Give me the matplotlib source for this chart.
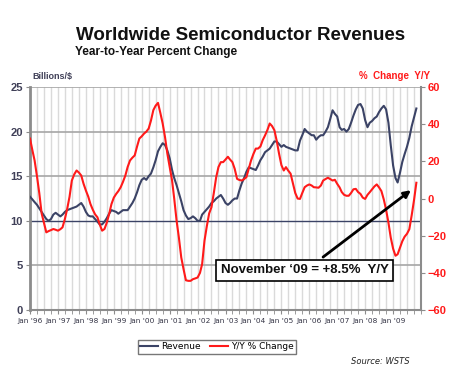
import pandas as pd
import numpy as np
import matplotlib
matplotlib.use("Agg")
import matplotlib.pyplot as plt
import matplotlib.dates as mdates
from matplotlib.lines import Line2D

# Monthly worldwide semiconductor revenues (billions $), Jan 1996 - Nov 2009
revenue = [
    12.7, 12.4, 12.1, 11.8, 11.4, 11.0, 10.6, 10.2, 10.0, 10.2, 10.7, 10.9,   # 1996
    10.7, 10.5, 10.7, 11.0, 11.2, 11.3, 11.4, 11.5, 11.6, 11.8, 12.0, 11.6,   # 1997
    11.0, 10.6, 10.5, 10.5, 10.2, 9.9, 9.6, 9.6, 9.9, 10.3, 10.8, 11.2,       # 1998
    11.1, 11.0, 10.8, 11.0, 11.2, 11.2, 11.2, 11.6, 12.0, 12.5, 13.2, 14.0,   # 1999
    14.6, 14.8, 14.6, 15.0, 15.3, 16.0, 16.8, 17.8, 18.3, 18.7, 18.5, 17.9,   # 2000
    17.0, 15.7, 14.8, 14.0, 13.1, 12.2, 11.2, 10.6, 10.2, 10.3, 10.5, 10.3,   # 2001
    10.0, 10.0, 10.7, 11.0, 11.3, 11.6, 12.0, 12.2, 12.5, 12.7, 12.9, 12.5,   # 2002
    12.0, 11.8, 12.0, 12.3, 12.5, 12.5, 13.4, 14.2, 14.8, 15.5, 16.0, 15.9,   # 2003
    15.8, 15.7, 16.2, 16.8, 17.2, 17.7, 17.9, 18.1, 18.5, 18.9, 18.9, 18.6,   # 2004
    18.3, 18.5, 18.3, 18.2, 18.1, 18.0, 17.9, 17.9, 19.0, 19.6, 20.3, 20.0,   # 2005
    19.8, 19.6, 19.6, 19.1, 19.4, 19.6, 19.6, 20.0, 20.5, 21.4, 22.4, 22.0,   # 2006
    21.7, 20.5, 20.2, 20.3, 20.0, 20.3, 21.0, 21.8, 22.5, 23.0, 23.1, 22.6,   # 2007
    21.3, 20.5, 21.0, 21.2, 21.5, 21.7, 22.2, 22.6, 22.9, 22.5, 21.0, 18.5,   # 2008
    16.2, 14.8, 14.3, 15.4, 16.6, 17.5, 18.3, 19.3, 20.6, 21.6, 22.6,         # 2009
]

# Year-to-year percent change
yoy = [
    32.3, 26.0, 20.5, 12.0, 3.0, -8.0, -13.0, -18.2, -17.5, -17.0, -16.4, -16.8,   # 1996
    -17.3, -16.5, -15.5, -11.0, -5.6, 1.0, 9.7, 13.0, 15.1, 14.0, 12.4, 8.0,       # 1997
    4.3, 1.0, -2.9, -6.0, -8.5, -10.1, -14.0, -17.3, -16.4, -13.0, -8.3, -3.0,     # 1998
    0.5, 2.5, 4.0, 6.1, 9.0, 12.4, 17.0, 20.5, 22.0, 23.2, 28.0, 32.3,             # 1999
    33.5, 35.0, 36.0, 37.7, 42.0, 47.6, 50.0, 51.5, 46.0, 40.4, 33.0, 24.2,        # 2000
    17.0, 9.7, 0.0, -11.9, -21.0, -31.7, -38.0, -44.0, -44.3, -44.3, -43.4, -43.0, # 2001
    -42.5, -40.0, -35.3, -22.7, -15.0, -8.0, -4.7, 3.0, 11.5, 17.0, 19.6, 19.6,    # 2002
    21.0, 22.5, 21.0, 19.6, 16.0, 10.6, 10.0, 9.7, 10.5, 11.5, 16.0, 20.5,         # 2003
    24.0, 26.9, 26.9, 28.0, 31.4, 34.0, 36.8, 40.4, 39.0, 36.8, 31.0, 24.2,        # 2004
    18.0, 15.1, 16.9, 15.0, 13.4, 8.0, 3.0, 0.0, -0.2, 3.0, 6.1, 7.0,              # 2005
    7.6, 7.0, 6.1, 6.0, 5.8, 7.0, 9.7, 10.5, 11.2, 10.5, 9.7, 10.1,                # 2006
    7.9, 6.0, 3.5, 2.0, 1.5, 1.5, 3.0, 5.0, 5.2, 3.5, 2.5, 0.5,                    # 2007
    -0.2, 2.0, 3.4, 5.0, 6.5, 7.6, 6.0, 4.0, -0.5, -6.0, -13.0, -21.0,             # 2008
    -27.0, -30.8, -30.0, -26.5, -23.0, -20.5, -19.0, -16.5, -9.0, -1.0, 8.5,       # 2009
]

year_ticks = pd.date_range("1996-01-01", "2009-01-01", freq="YS")
dates = pd.date_range("1996-01-01", periods=len(revenue), freq="MS")

navy = "#3b4366"
red = "#ff1a1a"
gray = "#8c8c8c"
font = "Liberation Sans"

fig = plt.figure(figsize=(4.5, 3.77), dpi=100)
ax = fig.add_axes([0.0667, 0.1777, 0.8689, 0.5913])
ax2 = ax.twinx()

# grid
ax.set_xlim(pd.Timestamp("1996-01-01"), pd.Timestamp("2010-01-01"))
ax.set_ylim(0, 25)
ax.set_xticks(year_ticks)
ax.xaxis.set_minor_locator(mdates.MonthLocator(bymonth=[1, 4, 7, 10]))
ax.set_xticklabels([d.strftime("Jan '%y") for d in year_ticks])
ax.grid(True, which="both", axis="x", color="#dadada", lw=1.0)
for v in [5, 15, 20, 25]:
    ax.axhline(v, color="#a6a6a6", lw=1.2, zorder=1)
ax.axhline(10, color=navy, lw=1.0, zorder=1)
ax.set_axisbelow(True)

ax.plot(dates, revenue, color=navy, lw=1.5, zorder=3)
ax2.plot(dates, yoy, color=red, lw=1.5, zorder=3)
ax2.set_ylim(-60, 60)
ax2.set_yticks([60, 40, 20, 0, -20, -40, -60])

for a in (ax, ax2):
    for s in a.spines.values():
        s.set_visible(False)
ax.spines["left"].set_visible(True)
ax.spines["left"].set_color(gray)
ax.spines["left"].set_linewidth(2)
ax.spines["bottom"].set_visible(True)
ax.spines["bottom"].set_color(gray)
ax.spines["bottom"].set_linewidth(1.5)
ax2.spines["right"].set_visible(True)
ax2.spines["right"].set_color(gray)
ax2.spines["right"].set_linewidth(1.5)

ax.set_yticks([0, 5, 10, 15, 20, 25])
ax.tick_params(axis="y", length=3, color=gray, labelsize=8, labelcolor="#404058", pad=2)
ax.tick_params(axis="x", which="major", length=3, color=gray, labelsize=5.3, labelcolor="#333344", pad=3)
ax.tick_params(axis="x", which="minor", length=3, color=gray)
ax2.tick_params(axis="y", length=3, color=gray, labelsize=8, labelcolor=red, pad=2)
for lbl in ax.get_yticklabels() + ax2.get_yticklabels():
    lbl.set_fontweight("bold")
    lbl.set_family(font)

# titles
fig.text(0.535, 0.905, "Worldwide Semiconductor Revenues", ha="center", va="center",
         fontsize=13.5, fontweight="bold", color="#111111", family=font)
fig.text(0.167, 0.862, "Year-to-Year Percent Change", ha="left", va="center",
         fontsize=8.5, fontweight="bold", color="#111111", family=font)
fig.text(0.071, 0.798, "Billions/$", ha="left", va="center",
         fontsize=6.5, fontweight="bold", color="#404058", family=font)
fig.text(0.955, 0.798, "%  Change  Y/Y", ha="right", va="center",
         fontsize=7, fontweight="bold", color=red, family=font)

# annotation
ax2.annotate("", xy=(pd.Timestamp("2009-09-20"), 5.4), xytext=(pd.Timestamp("2006-06-01"), -32.4),
             arrowprops=dict(arrowstyle="-|>", color="black", lw=2, mutation_scale=10), zorder=5)
ax2.text(pd.Timestamp("2005-11-01"), -38.6, "November \u201809 = +8.5%  Y/Y", ha="center", va="center",
         fontsize=9.5, fontweight="bold", color="#111111", family=font, zorder=6,
         bbox=dict(boxstyle="square,pad=0.35", fc="white", ec="black", lw=1.2))

# legend
handles = [Line2D([], [], color=navy, lw=1.5), Line2D([], [], color=red, lw=1.5)]
fig.legend(handles, ["Revenue", "Y/Y % Change"], loc="center", bbox_to_anchor=(0.482, 0.08),
           ncol=2, fontsize=6.5, frameon=True, fancybox=False, edgecolor="#555555",
           handlelength=2.0, handletextpad=0.3, columnspacing=1.0, borderpad=0.3)
fig.text(0.91, 0.042, "Source: WSTS", ha="right", va="center", fontsize=6,
         fontstyle="italic", color="#222222")

fig.savefig("out.png", dpi=100)
